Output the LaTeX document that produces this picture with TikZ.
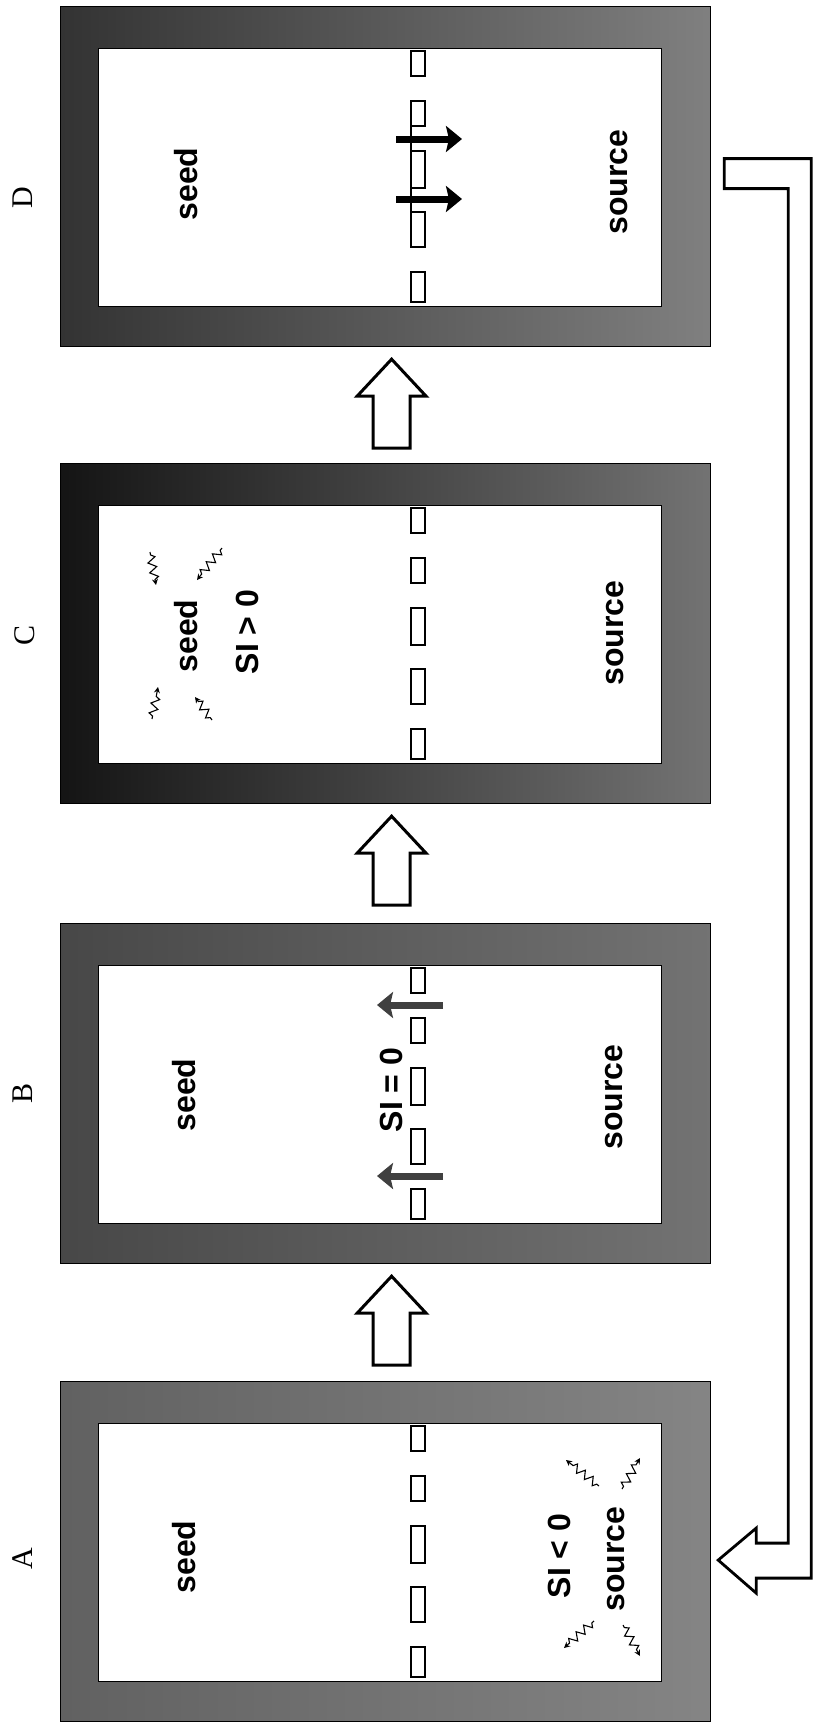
\documentclass[tikz,border=0pt]{standalone}
\usepackage{fontspec}
\setmainfont{Liberation Serif}
\setsansfont{Liberation Sans}
\usetikzlibrary{arrows.meta,calc,decorations.pathmorphing}
\tikzset{
  cell/.style={draw=black,line width=1.2pt,anchor=north west,inner sep=0,
               minimum width=650pt,minimum height=340pt},
  well/.style={draw=black,line width=0.8pt,fill=white,anchor=north west,inner sep=0,
               minimum width=563pt,minimum height=258pt},
  gap/.style={draw=black,line width=1.4pt,fill=white},
  lbl/.style={rotate=90,font=\sffamily\bfseries\fontsize{32}{36}\selectfont,inner sep=0},
  tag/.style={rotate=90,font=\rmfamily\fontsize{30}{34}\selectfont,inner sep=0},
  bigup/.style={draw=black,line width=3pt,line join=miter,fill=white},
  flux/.style={line width=7pt,-{Stealth[length=16pt,width=26pt,inset=3pt]}},
  squig/.style={line width=1.1pt,-{Stealth[length=6pt,width=6pt]},decorate,
                decoration={zigzag,segment length=10pt,amplitude=4pt,
                            pre length=3pt,post length=5pt}},
  loopback/.style={draw=black,line width=2.8pt,line join=miter,fill=white},
}
\begin{document}
\begin{tikzpicture}[x=1pt,y=-1pt]
  \useasboundingbox (0,0) rectangle (812,1722);

  % ---------------- the four cells, top to bottom ----------------
  \foreach \p/\ty/\cl/\cr in {D/6/80/50,C/463/92/55,B/923/72/55,A/1381/62/48} {
    \node[cell,left color=black!\cl,right color=black!\cr] (\p) at (60,\ty) {};
    \node[well] (\p w) at (98,\ty+42) {};
    \foreach \a/\b in {3/28,53/78,103/140,164/199,224/254}
      \draw[gap] (411,\ty+42+\a) rectangle (425,\ty+42+\b);
  }

  % letters
  \node[tag] (tD) at (23,198) {D};
  \node[tag] (tC) at (25,635) {C};
  \node[tag] (tB) at (23,1093) {B};
  \node[tag] (tA) at (23,1559) {A};

  % ---------------- D ----------------
  \node[lbl] (seedD) at (186,184) {seed};
  \node[lbl] (srcD) at (619,182) {source};
  \draw[line width=1.5pt] (411,126) -- (411,151) (411,188) -- (411,212);
  \foreach \y in {139,199}
    \draw[flux] (396,\y) -- (462,\y);

  % ---------------- C ----------------
  \node[lbl] (seedC) at (186,636) {seed};
  \node[lbl] (siC) at (247,632) {SI > 0};
  \node[lbl] (srcC) at (615,633) {source};
  \foreach \s/\e in {{(150,552)}/{(156,585)},{(222,548)}/{(197,580)},
                     {(152,719)}/{(158,687)},{(212,720)}/{(195,697)}}
    \draw[squig] \s -- \e;

  % ---------------- B ----------------
  \node[lbl] (seedB) at (184,1095) {seed};
  \node[lbl] (siB) at (391,1090) {SI = 0};
  \node[lbl] (srcB) at (614,1097) {source};
  \foreach \y in {1005,1176}
    \draw[flux,draw=black!75,fill=black!75] (443,\y) -- (377,\y);

  % ---------------- A ----------------
  \node[lbl] (seedA) at (184,1557) {seed};
  \node[lbl] (siA) at (559,1556) {SI < 0};
  \node[lbl] (srcA) at (616,1559) {source};
  \foreach \s/\e in {{(599,1486)}/{(566,1460)},{(622,1489)}/{(640,1458)},
                     {(594,1621)}/{(564,1648)},{(623,1625)}/{(640,1656)}}
    \draw[squig] \s -- \e;

  % hollow arrows from each cell up to the next
  \foreach \lo/\hi in {C/D,B/C,A/B} {
    \coordinate (up\lo) at ([xshift=6pt,yshift=-12pt]\hi.south);
    \draw[bigup] (up\lo) -- ++(34.5,37) -- ++(-16,0) -- ++(0,52) -- ++(-37,0)
      -- ++(0,-52) -- ++(-16,0) -- cycle;
  }

  % loop back from D down to A
  \coordinate (fbD) at ([xshift=13pt,yshift=3pt]D.east);
  \coordinate (fbA) at ([xshift=7pt,yshift=-8.5pt]A.east);
  \draw[loopback] ($(fbD)+(0,-15)$) -- ($(fbD)+(87,-15)$) -- ($(fbA)+(93,18)$)
    -- ($(fbA)+(38,18)$) -- ($(fbA)+(38,33)$) -- (fbA) -- ($(fbA)+(38,-32)$)
    -- ($(fbA)+(38,-17)$) -- ($(fbA)+(70,-17)$) -- ($(fbD)+(64,15)$)
    -- ($(fbD)+(0,15)$) -- cycle;
\end{tikzpicture}
\end{document}
